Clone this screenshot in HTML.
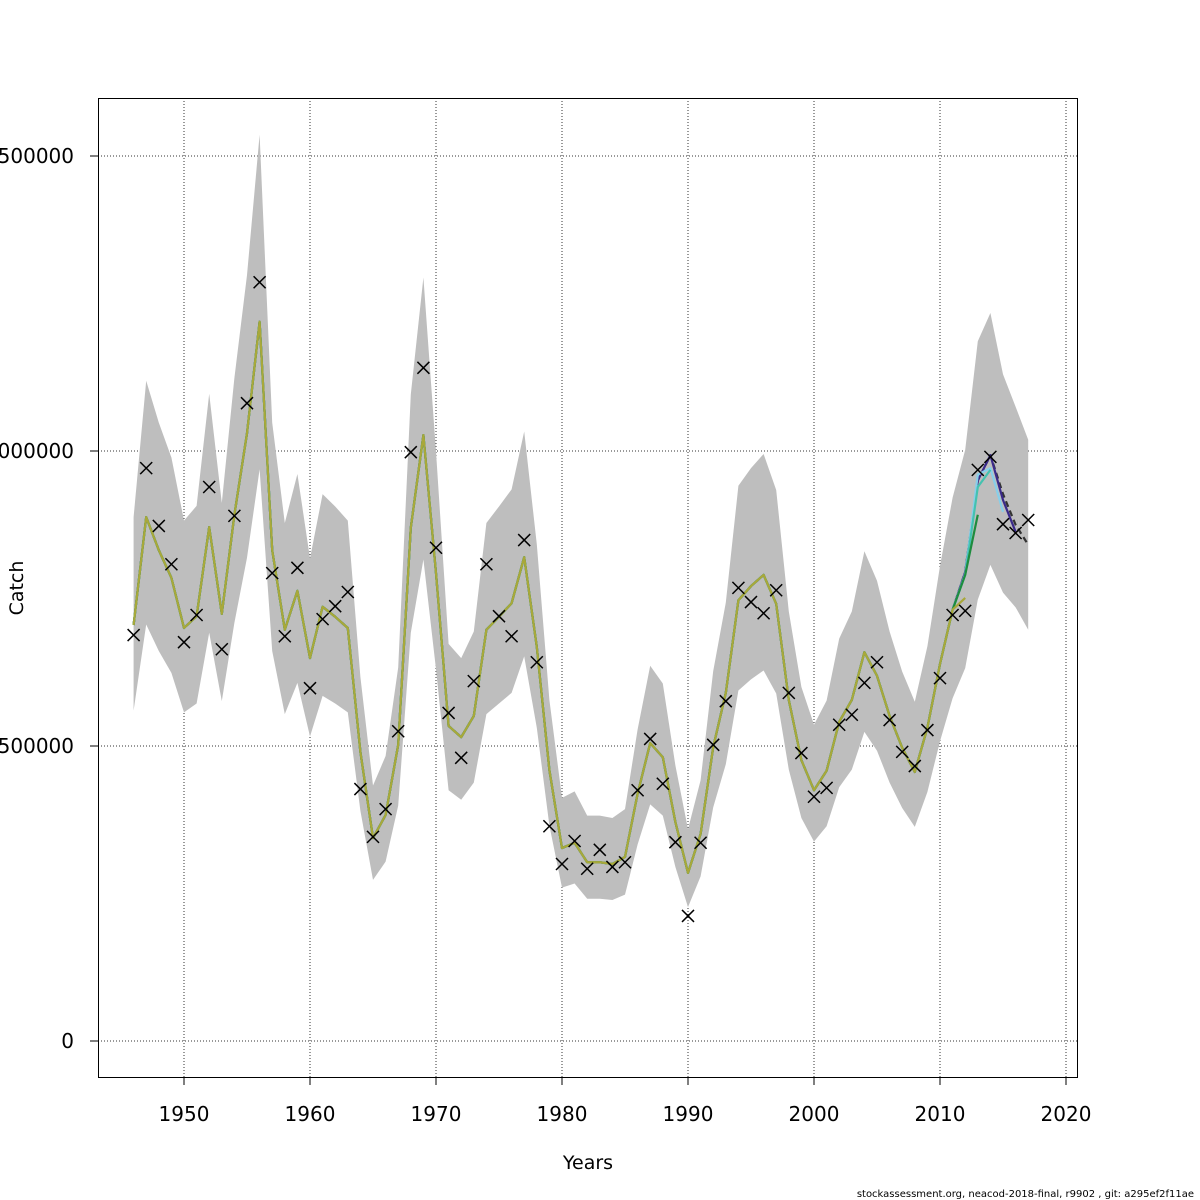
<!DOCTYPE html>
<html><head><meta charset="utf-8"><style>
body{margin:0;background:#fff}
svg{display:block;font-family:"DejaVu Sans","Liberation Sans",sans-serif}
</style></head><body>
<svg id="chart" width="1200" height="1200" viewBox="0 0 1200 1200" xmlns="http://www.w3.org/2000/svg">
<g id="grid"></g>
<g id="band"></g>
<g id="lines"></g>
<g id="obs"></g>
<g id="axes"></g>
<rect x="98.5" y="98.5" width="979" height="979" fill="none" stroke="#000" stroke-width="1"/>
<text x="588" y="1169" font-size="19" text-anchor="middle">Years</text>
<text transform="translate(23,588) rotate(-90)" font-size="19" text-anchor="middle">Catch</text>
<text x="1194" y="1197" font-size="10" text-anchor="end">stockassessment.org, neacod-2018-final, r9902 , git: a295ef2f11ae</text>
</svg>
<script>
const years=[];for(let y=1946;y<=2017;y++)years.push(y);
const obsCatch=[688,971,873,808,676,722,939,664,890,1081,1286,793,686,802,598,715,737,761,427,346,393,525,998,1141,836,556,480,610,808,720,686,849,642,364,300,339,292,324,295,303,425,512,436,337,212,336,502,576,768,744,725,764,590,488,414,429,536,553,607,642,544,490,466,527,615,722,729,968,990,876,861,883];
const fitBase=[705,888,832,785,700,720,871,724,892,1030,1219,832,697,763,649,736,719,700,490,344,383,502,870,1027,793,534,515,551,697,719,742,820,668,459,327,336,303,303,300,312,419,505,481,371,285,351,498,590,747,771,790,741,578,476,425,458,541,578,659,619,551,497,456,531,639,731];
const upper=[888,1119,1048,989,882,907,1097,912,1124,1298,1536,1048,878,961,818,927,906,882,617,433,483,633,1096,1294,999,673,649,694,878,906,935,1033,842,578,412,423,382,382,378,393,528,636,606,467,359,442,627,743,941,971,995,934,728,600,536,577,682,728,830,780,694,626,575,669,805,921,1002,1186,1234,1130,1075,1019];
const lower=[560,706,661,624,557,572,692,576,709,819,969,661,554,607,516,585,572,557,390,273,304,399,692,816,630,425,409,438,554,572,590,652,531,365,260,267,241,241,239,248,333,401,382,295,227,279,396,469,594,613,628,589,460,378,338,364,430,460,524,492,438,395,363,422,508,581,632,748,807,760,735,697];
const tailDashed=[795,950,993,927,875,841];
const tailPurple=[795,950,993,917,863];
const tailLightBlue=[792,960,971,897];
const tailTeal=[790,939,968];
const tailGreen=[790,892];
const tailOlive=[751];
const xTicks=[1950,1960,1970,1980,1990,2000,2010,2020];
const yTicks=[0,500000,1000000,1500000];
const yTickLabels=["0","500000","1000000","1500000"];

const NS="http://www.w3.org/2000/svg";
const X=yr=>184+(yr-1950)*12.6;
const Y=v=>1041-v*1000/500000*295;
const Yr=v=>1041-v/500000*295;
function mk(tag,attrs,parent){const e=document.createElementNS(NS,tag);for(const k in attrs)e.setAttribute(k,attrs[k]);parent.appendChild(e);return e;}
const grid=document.getElementById('grid'),band=document.getElementById('band'),lines=document.getElementById('lines'),obs=document.getElementById('obs'),axes=document.getElementById('axes');

xTicks.forEach(t=>{
  const l=mk('line',{x1:X(t),x2:X(t),y1:98,y2:1077,stroke:'#333','stroke-dasharray':'1,2','stroke-width':1},grid);
  
  
  const tk=mk('line',{x1:X(t),x2:X(t),y1:1077,y2:1085,stroke:'#000'},axes);
  
  
  const tx=mk('text',{x:X(t),y:1121,'font-size':20,'text-anchor':'middle'},axes);
  tx.textContent=t;
  
  
});
yTicks.forEach((t,i)=>{
  const l=mk('line',{x1:98,x2:1077,y1:Yr(t),y2:Yr(t),stroke:'#333','stroke-dasharray':'1,2','stroke-width':1},grid);
  
  
  const tk=mk('line',{x1:90,x2:98,y1:Yr(t),y2:Yr(t),stroke:'#000'},axes);
  
  
  const tx=mk('text',{x:74,y:Yr(t)+7,'font-size':20,'text-anchor':'end'},axes);
  tx.textContent=yTickLabels[i];
  
  
});

let pts=years.map((y,i)=>X(y)+','+Y(upper[i]));
for(let i=years.length-1;i>=0;i--)pts.push(X(years[i])+','+Y(lower[i]));
const poly=mk('polygon',{points:pts.join(' '),fill:'#bebebe',stroke:'none'},band);



function series(tail,color,name,dash){
  const vals=fitBase.concat(tail);
  const p=vals.map((v,i)=>X(1946+i)+','+Y(v)).join(' ');
  const a={points:p,fill:'none',stroke:color,'stroke-width':2.2,'stroke-linejoin':'round'};
  if(dash)a['stroke-dasharray']=dash;
  const e=mk('polyline',a,lines);
  
  
}
series(tailDashed,'#333','fit-line-2017','6,4');
series(tailPurple,'#3a2a8a','fit-line-2016');
series(tailLightBlue,'#87cfea','fit-line-2015');
series(tailTeal,'#44c2b0','fit-line-2014');
series(tailGreen,'#1e8c3e','fit-line-2013');
series(tailOlive,'#a9a83a','fit-line-2012');

years.forEach((y,i)=>{
  const cx=X(y),cy=Y(obsCatch[i]),s=6;
  const g=mk('path',{d:`M${cx-s},${cy-s}L${cx+s},${cy+s}M${cx-s},${cy+s}L${cx+s},${cy-s}`,stroke:'#000','stroke-width':1.5,fill:'none'},obs);
  
  
});
</script>
</body></html>
